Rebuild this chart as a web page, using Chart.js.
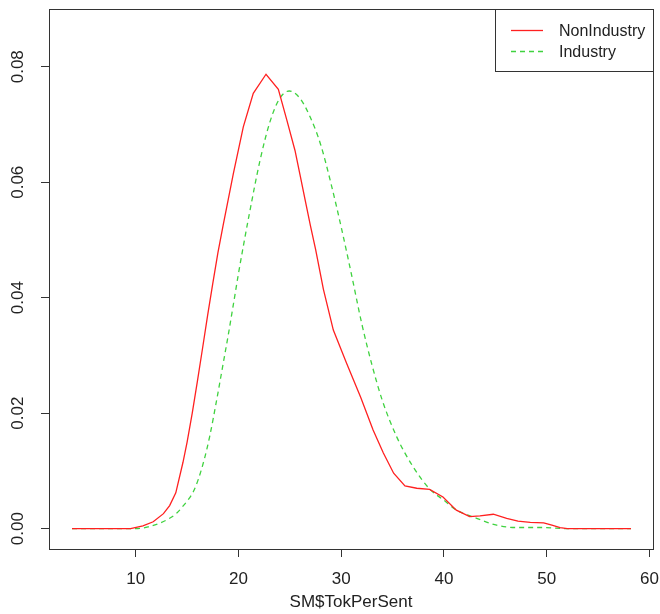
<!DOCTYPE html>
<html>
<head>
<meta charset="utf-8">
<script src="https://cdn.jsdelivr.net/npm/chart.js@4/dist/chart.umd.min.js"></script>
<style>
  html, body { margin: 0; padding: 0; background: #fff; }
  #wrap { width: 660px; height: 614px; position: relative; }
</style>
</head>
<body>
<div id="wrap"><canvas id="chart"></canvas></div>
<script>
// density curves
const nonIndustryX = [3.8, 6, 8, 9.5, 10.7, 11.7, 12.7, 13.3, 13.9, 14.6, 15.0, 15.5, 16.0, 16.5, 17.0, 17.5, 18.0, 18.5, 19.5, 20.47, 21.44, 22.68, 23.88, 24.7, 25.5, 26.0, 26.5, 27.0, 27.5, 28.26, 29.23, 30.53, 31.9, 33.1, 34.1, 35.1, 36.2, 37.35, 38.6, 39.9, 41.2, 42.5, 43.5, 44.8, 46.1, 47.2, 48.4, 49.7, 50.5, 51.3, 52.0, 55.0, 58.2];
const nonIndustryY = [0, 0, 0, 0, 0.0005, 0.0012, 0.0026, 0.0040, 0.0062, 0.0115, 0.0150, 0.0200, 0.0255, 0.0312, 0.0370, 0.0425, 0.0478, 0.0525, 0.0615, 0.0696, 0.0754, 0.0787, 0.0761, 0.0708, 0.0655, 0.0612, 0.0568, 0.0525, 0.0484, 0.0415, 0.0344, 0.0286, 0.0227, 0.0171, 0.0131, 0.0096, 0.0074, 0.0070, 0.0068, 0.0055, 0.0032, 0.0021, 0.0022, 0.0025, 0.0018, 0.0013, 0.0011, 0.0010, 0.0006, 0.0002, 0, 0, 0];

const industryX = [3.8, 6, 8, 10, 11.2, 12.4, 13.3, 14.0, 14.6, 15.1, 15.6, 16.1, 16.7, 17.2, 17.9, 18.5, 19.0, 19.5, 20.0, 20.5, 21.0, 22.1, 23.07, 24.0, 24.95, 26.0, 27.0, 28.0, 29.0, 30.0, 31.0, 32.0, 33.0, 34.0, 35.4, 37.0, 38.64, 39.94, 41.24, 43.18, 45.13, 47.07, 49.67, 52.0, 55.0, 58.2];
const industryY = [0, 0, 0, 0, 0.0003, 0.0010, 0.0018, 0.0027, 0.0039, 0.0050, 0.0064, 0.0086, 0.0122, 0.0160, 0.0225, 0.0285, 0.0335, 0.0388, 0.0442, 0.0492, 0.0540, 0.0638, 0.0705, 0.0745, 0.0758, 0.0745, 0.0712, 0.0665, 0.0598, 0.0522, 0.0440, 0.0355, 0.0283, 0.0222, 0.0159, 0.0107, 0.0068, 0.0050, 0.0032, 0.0018, 0.0006, 0.0002, 0.0002, 0, 0, 0];

const seriesLabels = ["NonIndustry", "Industry"];
const xTicks = [10, 20, 30, 40, 50, 60];
const yTicks = [0, 0.02, 0.04, 0.06, 0.08];

const toPoints = (xs, ys) => xs.map((x, i) => ({ x: x, y: ys[i] }));

const RED = "#ff2020";
const GREEN = "#3fd23f";
const AXIS = "#333333";
const FONT = "'Liberation Sans', Arial, sans-serif";

// R style box around the plot region + topright legend
const boxPlugin = {
  id: "rbox",
  afterDraw(chart) {
    const { ctx, chartArea } = chart;
    ctx.save();
    ctx.strokeStyle = AXIS;
    ctx.lineWidth = 1;
    ctx.strokeRect(
      Math.round(chartArea.left) + 0.5,
      Math.round(chartArea.top) + 0.5,
      Math.round(chartArea.right - chartArea.left),
      Math.round(chartArea.bottom - chartArea.top)
    );

    // legend
    const lx = 495, ly = Math.round(chartArea.top), lw = Math.round(chartArea.right) - 495, lh = 62;
    ctx.fillStyle = "#fff";
    ctx.fillRect(lx, ly, lw, lh);
    ctx.strokeRect(lx + 0.5, ly + 0.5, lw, lh);
    const rows = [30.5, 51.5];
    chart.data.datasets.forEach((ds, i) => {
      ctx.beginPath();
      ctx.strokeStyle = ds.borderColor;
      ctx.lineWidth = ds.borderWidth;
      ctx.setLineDash(ds.borderDash || []);
      ctx.moveTo(511, rows[i]);
      ctx.lineTo(543, rows[i]);
      ctx.stroke();
      ctx.setLineDash([]);
      ctx.fillStyle = "#222";
      ctx.font = "16px " + FONT;
      ctx.textBaseline = "middle";
      ctx.textAlign = "left";
      ctx.fillText(ds.label, 559, rows[i] + 1);
    });
    ctx.restore();
  },
};

const ctx = document.getElementById("chart").getContext("2d");
new Chart(ctx, {
  type: "line",
  data: {
    datasets: [
      {
        label: seriesLabels[0],
        data: toPoints(nonIndustryX, nonIndustryY),
        borderColor: RED,
        borderWidth: 1.3,
        pointRadius: 0,
        fill: false,
        tension: 0,
      },
      {
        label: seriesLabels[1],
        data: toPoints(industryX, industryY),
        borderColor: GREEN,
        borderWidth: 1.3,
        borderDash: [5, 4],
        pointRadius: 0,
        fill: false,
        cubicInterpolationMode: "monotone",
      },
    ],
  },
  options: {
    responsive: true,
    maintainAspectRatio: false,
    animation: false,
    layout: { padding: { top: 9, right: 7, left: 0, bottom: 0 } },
    plugins: {
      legend: { display: false },
      tooltip: { enabled: false },
    },
    scales: {
      x: {
        type: "linear",
        min: 1.56,
        max: 60.34,
        afterFit: (scale) => {
          scale.height = 65;
          scale.paddingLeft = 0;
          scale.paddingRight = 0;
        },
        afterBuildTicks: (scale) => { scale.ticks = xTicks.map((v) => ({ value: v })); },
        grid: { drawOnChartArea: false, drawTicks: true, tickLength: 8, color: AXIS, tickColor: AXIS },
        border: { display: false },
        ticks: {
          color: "#222",
          font: { family: FONT, size: 17 },
          padding: 12,
          maxRotation: 0,
          callback: (v) => String(v),
        },
        title: {
          display: true,
          text: "SM$TokPerSent",
          color: "#222",
          font: { family: FONT, size: 17 },
          padding: { top: 0, bottom: 1 },
        },
      },
      y: {
        type: "linear",
        min: -0.00352,
        max: 0.0900,
        afterFit: (scale) => {
          scale.width = 49;
          scale.paddingTop = 0;
          scale.paddingBottom = 0;
        },
        afterBuildTicks: (scale) => { scale.ticks = yTicks.map((v) => ({ value: v })); },
        grid: { drawOnChartArea: false, drawTicks: true, tickLength: 8, color: AXIS, tickColor: AXIS },
        border: { display: false },
        ticks: {
          color: "#222",
          font: { family: FONT, size: 17 },
          padding: 6,
          minRotation: 90,
          maxRotation: 90,
          crossAlign: "center",
          callback: (v) => Number(v).toFixed(2),
        },
      },
    },
  },
  plugins: [boxPlugin],
});
</script>
</body>
</html>
